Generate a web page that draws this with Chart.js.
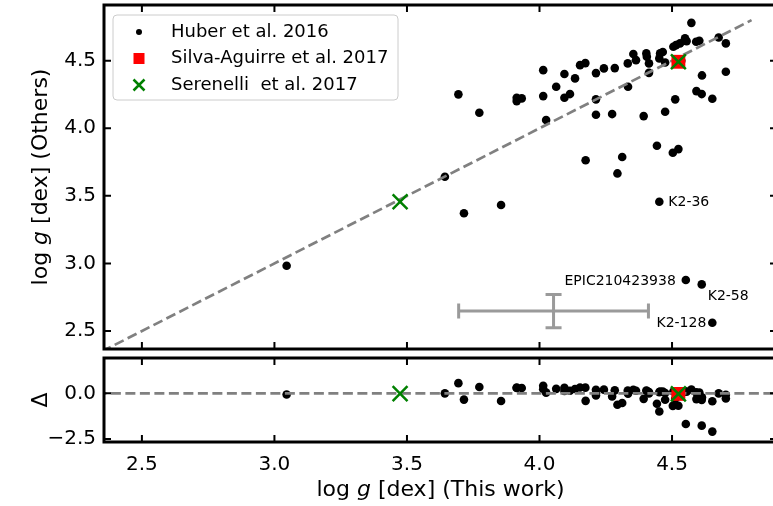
<!DOCTYPE html>
<html><head><meta charset="utf-8">
<script src="https://cdn.jsdelivr.net/npm/chart.js@4.4.1/dist/chart.umd.min.js"></script>
<style>
html,body{margin:0;padding:0;background:#fff;overflow:hidden;width:773px;height:506px;}
canvas{position:absolute;left:0;}
#top{top:0;}
#bot{top:352px;}
</style></head><body>
<canvas id="top" width="780" height="352"></canvas>
<canvas id="bot" width="780" height="154"></canvas>
<script>
// ---------------- data ----------------
const huberThisWork = [3.046,3.643,3.694,3.715,3.773,3.855,3.914,3.933,3.914,4.014,4.014,4.025,4.063,4.094,4.094,4.115,4.134,4.153,4.173,4.174,4.213,4.213,4.213,4.243,4.274,4.284,4.294,4.312,4.334,4.333,4.354,4.364,4.393,4.403,4.405,4.413,4.413,4.443,4.452,4.452,4.455,4.465,4.474,4.474,4.503,4.524,4.512,4.505,4.515,4.530,4.535,4.549,4.555,4.552,4.573,4.591,4.603,4.613,4.592,4.612,4.612,4.652,4.652,4.676,4.703,4.703];
const huberOthers   = [2.983,3.641,4.251,3.371,4.115,3.432,4.226,4.221,4.201,4.430,4.238,4.061,4.307,4.401,4.226,4.253,4.369,4.467,4.482,3.763,4.408,4.214,4.100,4.443,4.105,4.445,3.666,3.787,4.307,4.480,4.549,4.504,4.090,4.554,4.529,4.480,4.410,3.871,3.456,4.517,4.554,4.564,4.487,4.122,3.819,3.846,4.214,4.603,4.615,4.628,4.500,4.665,4.645,2.877,4.780,4.640,4.647,4.391,4.275,4.253,2.845,4.218,2.561,4.672,4.628,4.418];
const silvaThisWork = [4.524];
const silvaOthers   = [4.492];
const serenelliThisWork = [3.474, 4.524];
const serenelliOthers   = [3.456, 4.492];
const annotatedNames    = ['K2-36', 'EPIC210423938', 'K2-58', 'K2-128'];
const annotatedThisWork = [4.452, 4.552, 4.612, 4.652];
const annotatedOthers   = [3.456, 2.877, 2.845, 2.561];
const errorBarCenter = [4.053, 2.648];   // [x, y]
const errorBarSize   = [0.358, 0.123];   // [xerr, yerr]
const oneToOneLine = [2.3, 4.8];
const zeroLine = [2.0, 5.0];
const xTicks = [2.5, 3.0, 3.5, 4.0, 4.5];
const yTicksTop = [2.5, 3.0, 3.5, 4.0, 4.5];
const yTicksBottom = [-2.5, 0.0];
const legendLabels = ['Huber et al. 2016', 'Silva-Aguirre et al. 2017', 'Serenelli  et al. 2017'];
const xLimits = [2.357, 4.896];
const yLimitsTop = [2.367, 4.912];
const yLimitsBottom = [-2.66, 1.93];

// residuals: Others - This work
const huberDelta = huberOthers.map((v, i) => v - huberThisWork[i]);
const silvaDelta = silvaOthers.map((v, i) => v - silvaThisWork[i]);
const serenelliDelta = serenelliOthers.map((v, i) => v - serenelliThisWork[i]);

// ---------------- helpers ----------------
const FONT = '"DejaVu Sans", "Liberation Sans", sans-serif';
const pts = (xs, ys) => xs.map((v, i) => ({x: v, y: ys[i]}));
const fmt = v => (v < 0 ? '\u2212' : '') + Math.abs(v).toFixed(1);

function drawMixed(ctx, parts, cx, cy, rot, size) {
  ctx.save();
  ctx.translate(cx, cy);
  ctx.rotate(rot);
  const widths = parts.map(p => { ctx.font = (p[1] ? 'italic ' : '') + size + 'px ' + FONT; return ctx.measureText(p[0]).width; });
  const total = widths.reduce((a, b) => a + b, 0);
  let x = -total / 2;
  ctx.textBaseline = 'alphabetic';
  ctx.textAlign = 'left';
  ctx.fillStyle = '#000';
  parts.forEach((p, i) => { ctx.font = (p[1] ? 'italic ' : '') + size + 'px ' + FONT; ctx.fillText(p[0], x, 0); x += widths[i]; });
  ctx.restore();
}

const framePlugin = {
  id: 'frame',
  afterDatasetsDraw(chart, args, opts) {
    const {ctx, chartArea: a, scales: {x, y}} = chart;
    ctx.save();
    ctx.strokeStyle = '#000';
    ctx.lineWidth = 2;
    ctx.beginPath();
    for (const v of xTicks) {
      const px = x.getPixelForValue(v);
      ctx.moveTo(px, a.top); ctx.lineTo(px, a.top + 7);
      ctx.moveTo(px, a.bottom); ctx.lineTo(px, a.bottom - 7);
    }
    for (const v of opts.yTicks) {
      const py = y.getPixelForValue(v);
      ctx.moveTo(a.left, py); ctx.lineTo(a.left + 7, py);
      ctx.moveTo(a.right, py); ctx.lineTo(a.right - 7, py);
    }
    ctx.stroke();
    ctx.lineWidth = 3;
    ctx.strokeRect(a.left, a.top, a.right - a.left, a.bottom - a.top);
    ctx.restore();
  }
};

const errorBarPlugin = {
  id: 'errbar',
  beforeDatasetsDraw(chart) {
    const {ctx, scales: {x, y}} = chart;
    const cx = x.getPixelForValue(errorBarCenter[0]);
    const cy = y.getPixelForValue(errorBarCenter[1]);
    const x0 = x.getPixelForValue(errorBarCenter[0] - errorBarSize[0]);
    const x1 = x.getPixelForValue(errorBarCenter[0] + errorBarSize[0]);
    const y0 = y.getPixelForValue(errorBarCenter[1] - errorBarSize[1]);
    const y1 = y.getPixelForValue(errorBarCenter[1] + errorBarSize[1]);
    ctx.save();
    ctx.strokeStyle = '#9a9a9a';
    ctx.lineWidth = 3;
    ctx.beginPath();
    ctx.moveTo(x0, cy); ctx.lineTo(x1, cy);
    ctx.moveTo(cx, y0); ctx.lineTo(cx, y1);
    ctx.moveTo(x0, cy - 7.5); ctx.lineTo(x0, cy + 7.5);
    ctx.moveTo(x1, cy - 7.5); ctx.lineTo(x1, cy + 7.5);
    ctx.moveTo(cx - 8, y0); ctx.lineTo(cx + 8, y0);
    ctx.moveTo(cx - 8, y1); ctx.lineTo(cx + 8, y1);
    ctx.stroke();
    ctx.restore();
  }
};

const annotationPlugin = {
  id: 'annot',
  afterDatasetsDraw(chart) {
    const {ctx, scales: {x, y}} = chart;
    // text placement relative to each marked star: [dx, dy, align]
    const place = [[9, 1, 'left'], [-10, 1, 'right'], [6, 11.5, 'left'], [-6, 1, 'right']];
    ctx.save();
    ctx.font = '14px ' + FONT;
    ctx.fillStyle = '#000';
    ctx.textBaseline = 'middle';
    annotatedNames.forEach((name, i) => {
      const px = x.getPixelForValue(annotatedThisWork[i]);
      const py = y.getPixelForValue(annotatedOthers[i]);
      ctx.textAlign = place[i][2];
      ctx.fillText(name, px + place[i][0], py + place[i][1]);
    });
    ctx.restore();
  }
};

const legendPlugin = {
  id: 'mylegend',
  afterDraw(chart) {
    const ctx = chart.ctx;
    ctx.save();
    const bx = 113, by = 15, bw = 285, bh = 85, r = 4;
    ctx.beginPath();
    ctx.moveTo(bx + r, by); ctx.lineTo(bx + bw - r, by); ctx.arcTo(bx + bw, by, bx + bw, by + r, r);
    ctx.lineTo(bx + bw, by + bh - r); ctx.arcTo(bx + bw, by + bh, bx + bw - r, by + bh, r);
    ctx.lineTo(bx + r, by + bh); ctx.arcTo(bx, by + bh, bx, by + bh - r, r);
    ctx.lineTo(bx, by + r); ctx.arcTo(bx, by, bx + r, by, r);
    ctx.closePath();
    ctx.fillStyle = 'rgba(255,255,255,0.8)';
    ctx.fill();
    ctx.strokeStyle = '#cccccc';
    ctx.lineWidth = 1;
    ctx.stroke();
    const rows = [32, 58.5, 85];
    const mx = 139;
    ctx.fillStyle = '#000';
    ctx.beginPath(); ctx.arc(mx, rows[0], 3, 0, Math.PI * 2); ctx.fill();
    ctx.fillStyle = '#ff0000';
    ctx.fillRect(mx - 5.5, rows[1] - 5.5, 11, 11);
    ctx.strokeStyle = '#008000'; ctx.lineWidth = 2.5;
    ctx.beginPath();
    ctx.moveTo(mx - 5.5, rows[2] - 5.5); ctx.lineTo(mx + 5.5, rows[2] + 5.5);
    ctx.moveTo(mx + 5.5, rows[2] - 5.5); ctx.lineTo(mx - 5.5, rows[2] + 5.5);
    ctx.stroke();
    ctx.fillStyle = '#000';
    ctx.font = '18px ' + FONT;
    ctx.textAlign = 'left';
    ctx.textBaseline = 'middle';
    legendLabels.forEach((t, i) => ctx.fillText(t, 171, rows[i]));
    drawMixed(ctx, [['log ', false], ['g', true], [' [dex] (Others)', false]], 47, 177, -Math.PI / 2, 22);
    ctx.restore();
  }
};

const bottomTitlesPlugin = {
  id: 'bottitles',
  afterDraw(chart) {
    const ctx = chart.ctx;
    const a = chart.chartArea;
    drawMixed(ctx, [['log ', false], ['g', true], [' [dex] (This work)', false]], (a.left + a.right) / 2, 496 - 352, 0, 22);
    drawMixed(ctx, [['\u0394', false]], 47, (a.top + a.bottom) / 2, -Math.PI / 2, 22);
  }
};

const yTickCommon = {font: {family: FONT, size: 20}, color: '#000', padding: 8, callback: v => fmt(v)};
const fitY = s => { s.width = 104; s.paddingTop = 0; s.paddingBottom = 0; };
const fitX = s => { s.height = 64; s.paddingLeft = 0; s.paddingRight = 0; };

// ---------------- upper panel ----------------
new Chart(document.getElementById('top'), {
  type: 'scatter',
  data: {datasets: [
    {label: legendLabels[0], data: pts(huberThisWork, huberOthers), pointRadius: 4.3, pointBackgroundColor: '#000', pointBorderWidth: 0, order: 4},
    {type: 'line', label: '1:1', data: pts(oneToOneLine, oneToOneLine), borderColor: '#808080', borderWidth: 2.7, borderDash: [10, 4.5], pointRadius: 0, fill: false, order: 3},
    {label: legendLabels[1], data: pts(silvaThisWork, silvaOthers), pointStyle: 'rect', pointRadius: 9.8, pointBackgroundColor: '#ff0000', pointBorderWidth: 0, order: 2},
    {label: legendLabels[2], data: pts(serenelliThisWork, serenelliOthers), pointStyle: 'crossRot', pointRadius: 10.5, pointBorderColor: '#008000', pointBackgroundColor: '#008000', pointBorderWidth: 2.5, order: 1}
  ]},
  options: {
    responsive: false, animation: false, devicePixelRatio: 1,
    layout: {autoPadding: false, padding: {left: 0, right: 3, top: 5, bottom: 3}},
    plugins: {legend: {display: false}, tooltip: {enabled: false}, frame: {yTicks: yTicksTop}},
    scales: {
      x: {type: 'linear', min: xLimits[0], max: xLimits[1], display: false},
      y: {type: 'linear', min: yLimitsTop[0], max: yLimitsTop[1],
          afterFit: fitY,
          afterBuildTicks: s => { s.ticks = yTicksTop.map(v => ({value: v})); },
          grid: {display: false, drawTicks: false}, border: {display: false}, ticks: yTickCommon}
    }
  },
  plugins: [errorBarPlugin, framePlugin, annotationPlugin, legendPlugin]
});

// ---------------- lower panel ----------------
new Chart(document.getElementById('bot'), {
  type: 'scatter',
  data: {datasets: [
    {label: legendLabels[0], data: pts(huberThisWork, huberDelta), pointRadius: 4.3, pointBackgroundColor: '#000', pointBorderWidth: 0, order: 4},
    {type: 'line', label: 'zero', data: pts(zeroLine, [0, 0]), borderColor: '#808080', borderWidth: 2.7, borderDash: [10, 4.5], pointRadius: 0, fill: false, order: 3},
    {label: legendLabels[1], data: pts(silvaThisWork, silvaDelta), pointStyle: 'rect', pointRadius: 9.8, pointBackgroundColor: '#ff0000', pointBorderWidth: 0, order: 2},
    {label: legendLabels[2], data: pts(serenelliThisWork, serenelliDelta), pointStyle: 'crossRot', pointRadius: 10.5, pointBorderColor: '#008000', pointBackgroundColor: '#008000', pointBorderWidth: 2.5, order: 1}
  ]},
  options: {
    responsive: false, animation: false, devicePixelRatio: 1,
    layout: {autoPadding: false, padding: {left: 0, right: 3, top: 6, bottom: 0}},
    plugins: {legend: {display: false}, tooltip: {enabled: false}, frame: {yTicks: yTicksBottom}},
    scales: {
      x: {type: 'linear', min: xLimits[0], max: xLimits[1],
          afterFit: fitX,
          afterBuildTicks: s => { s.ticks = xTicks.map(v => ({value: v})); },
          grid: {display: false, drawTicks: false}, border: {display: false},
          ticks: {font: {family: FONT, size: 20}, color: '#000', padding: 11, maxRotation: 0, callback: v => fmt(v)}},
      y: {type: 'linear', min: yLimitsBottom[0], max: yLimitsBottom[1],
          afterFit: fitY,
          afterBuildTicks: s => { s.ticks = yTicksBottom.map(v => ({value: v})); },
          grid: {display: false, drawTicks: false}, border: {display: false}, ticks: yTickCommon}
    }
  },
  plugins: [framePlugin, bottomTitlesPlugin]
});
</script>
</body></html>
